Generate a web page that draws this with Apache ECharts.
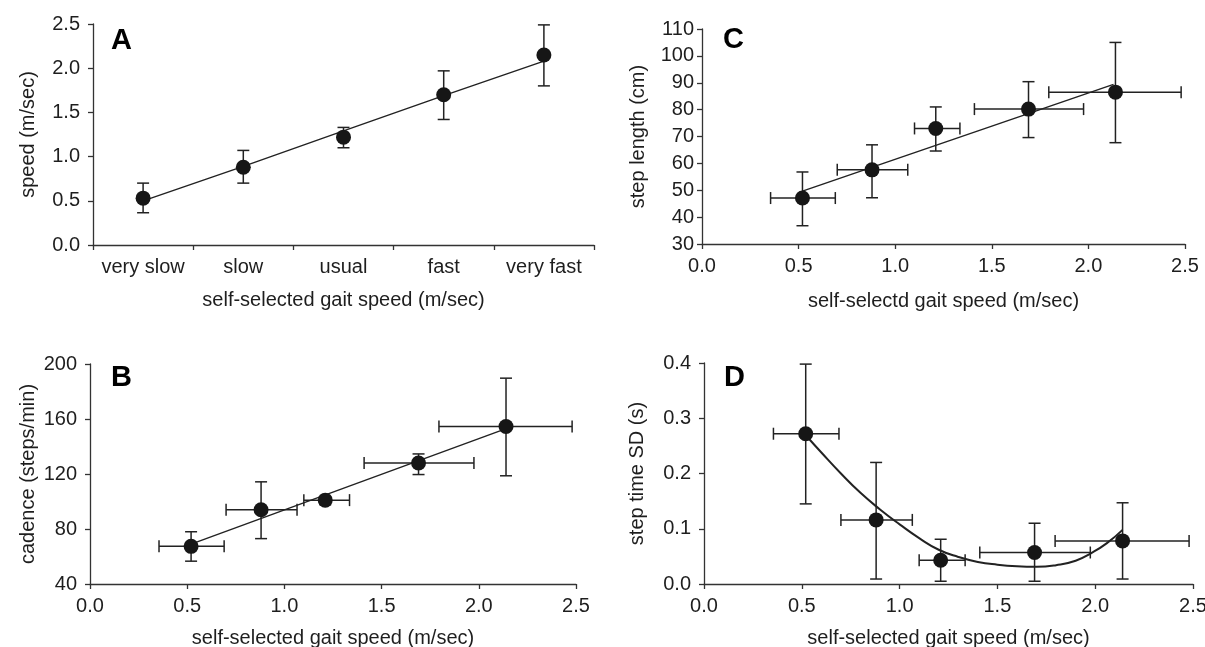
<!DOCTYPE html>
<html>
<head>
<meta charset="utf-8">
<script src="https://cdn.jsdelivr.net/npm/echarts@6/dist/echarts.min.js"></script>
<style>
html,body{margin:0;padding:0;background:#fff;}
#chart{width:1205px;height:647px;}
</style>
</head>
<body>
<div id="chart"></div>
<script>
// ---- Panel A: speed by instructed category ----
const speedCategories = ['very slow', 'slow', 'usual', 'fast', 'very fast'];
const speedMean = [0.53, 0.88, 1.22, 1.70, 2.15];
const speedLow = [0.365, 0.70, 1.10, 1.42, 1.80];
const speedHigh = [0.70, 1.07, 1.33, 1.97, 2.49];
const speedFit = [0.50, 0.89, 1.29, 1.69, 2.08];

// ---- shared self-selected gait speed (x of B, C, D) ----
const gaitSpeed = [0.52, 0.88, 1.21, 1.69, 2.14];
const gaitSpeedLow = [0.355, 0.70, 1.10, 1.41, 1.795];
const gaitSpeedHigh = [0.69, 1.065, 1.335, 1.975, 2.48];

// ---- Panel B: cadence ----
const cadence = [67.4, 94, 101, 128, 154.5];
const cadenceLow = [56.6, 73, 97.7, 119.6, 118.7];
const cadenceHigh = [78, 114.3, 103.5, 134.6, 189.7];
const cadenceFitX = [0.52, 2.13];
const cadenceFitY = [69, 152.4];

// ---- Panel C: step length ----
const stepLength = [47.1, 57.6, 73, 80.2, 86.5];
const stepLengthLow = [36.8, 47.2, 64.6, 69.6, 67.7];
const stepLengthHigh = [56.8, 66.9, 81, 90.4, 105];
const stepLengthFitX = [0.52, 2.13];
const stepLengthFitY = [49.7, 89.4];

// ---- Panel D: step time SD ----
const stepTimeSD = [0.272, 0.116, 0.043, 0.057, 0.078];
const stepTimeSDLow = [0.145, 0.009, 0.005, 0.005, 0.009];
const stepTimeSDHigh = [0.398, 0.220, 0.081, 0.110, 0.147];
const curveX = [0.526, 0.6, 0.7, 0.8, 0.9, 1.0, 1.1, 1.2, 1.3, 1.4, 1.5, 1.6, 1.7, 1.8, 1.9, 1.98, 2.06, 2.14];
const curveY = [0.267, 0.238, 0.200, 0.165, 0.135, 0.108, 0.083, 0.062, 0.049, 0.040, 0.035, 0.032, 0.031, 0.034, 0.042, 0.056, 0.074, 0.098];

// ---- axis ranges / ticks ----
const speedAxis = {min: 0, max: 2.5, interval: 0.5};
const cadenceAxis = {min: 40, max: 200, interval: 40};
const stepLengthAxis = {min: 30, max: 110, interval: 10};
const sdAxis = {min: 0, max: 0.4, interval: 0.1};
const gaitAxis = {min: 0, max: 2.5, interval: 0.5};

const panelLetters = ['A', 'B', 'C', 'D'];
const xTitleA = 'self-selected gait speed (m/sec)';
const xTitleC = 'self-selectd gait speed (m/sec)';

const FONT = '"Liberation Sans", Arial, Helvetica, sans-serif';
const TXT = '#1e1e1e';
const AX = '#333';
const MARK = '#161616';

function zip(a, b) { return a.map((v, i) => [v, b[i]]); }

function errRender(params, api) {
  const x = api.value(0), y = api.value(1);
  const cap = 6;
  const st = {stroke: '#222', lineWidth: 1.5};
  const ch = [];
  const lo = api.coord([x, api.value(2)]);
  const hi = api.coord([x, api.value(3)]);
  ch.push({type: 'line', shape: {x1: lo[0], y1: lo[1], x2: hi[0], y2: hi[1]}, style: st});
  ch.push({type: 'line', shape: {x1: lo[0] - cap, y1: lo[1], x2: lo[0] + cap, y2: lo[1]}, style: st});
  ch.push({type: 'line', shape: {x1: hi[0] - cap, y1: hi[1], x2: hi[0] + cap, y2: hi[1]}, style: st});
  const xl = api.value(4), xh = api.value(5);
  if (!isNaN(xl) && !isNaN(xh)) {
    const l = api.coord([xl, y]);
    const h = api.coord([xh, y]);
    ch.push({type: 'line', shape: {x1: l[0], y1: l[1], x2: h[0], y2: h[1]}, style: st});
    ch.push({type: 'line', shape: {x1: l[0], y1: l[1] - cap, x2: l[0], y2: l[1] + cap}, style: st});
    ch.push({type: 'line', shape: {x1: h[0], y1: h[1] - cap, x2: h[0], y2: h[1] + cap}, style: st});
  }
  return {type: 'group', children: ch};
}

function baseAxis(extra) {
  return Object.assign({
    axisLine: {show: true, lineStyle: {color: AX, width: 1.3}},
    axisTick: {show: true, inside: false, length: 5, lineStyle: {color: AX, width: 1.3}},
    splitLine: {show: false},
    axisLabel: {color: TXT, fontSize: 20, fontFamily: FONT},
    nameTextStyle: {color: TXT, fontSize: 20, fontFamily: FONT},
    nameLocation: 'middle'
  }, extra);
}
function fmt1(v) { return v.toFixed(1); }

const grids = [
  {left: 93, top: 24, width: 501, height: 221},   // A
  {left: 90, top: 364, width: 486, height: 220},  // B
  {left: 702, top: 29, width: 483, height: 215},  // C
  {left: 704, top: 363, width: 489, height: 221}  // D
].map(g => Object.assign({containLabel: false, outerBoundsMode: 'none'}, g));

const xAxes = [
  baseAxis({gridIndex: 0, type: 'category', data: speedCategories, boundaryGap: true,
    axisTick: {show: true, inside: false, length: 5, alignWithLabel: false, lineStyle: {color: AX, width: 1.3}},
    axisLabel: {color: TXT, fontSize: 20, fontFamily: FONT, margin: 12, interval: 0},
    name: xTitleA, nameGap: 45}),
  baseAxis({gridIndex: 1, type: 'value', min: gaitAxis.min, max: gaitAxis.max, interval: gaitAxis.interval,
    axisLabel: {color: TXT, fontSize: 20, fontFamily: FONT, margin: 12, formatter: fmt1},
    name: xTitleA, nameGap: 44}),
  baseAxis({gridIndex: 2, type: 'value', min: gaitAxis.min, max: gaitAxis.max, interval: gaitAxis.interval,
    axisLabel: {color: TXT, fontSize: 20, fontFamily: FONT, margin: 12, formatter: fmt1},
    name: xTitleC, nameGap: 47}),
  baseAxis({gridIndex: 3, type: 'value', min: gaitAxis.min, max: gaitAxis.max, interval: gaitAxis.interval,
    axisLabel: {color: TXT, fontSize: 20, fontFamily: FONT, margin: 12, formatter: fmt1},
    name: xTitleA, nameGap: 44})
];

const yAxes = [
  baseAxis({gridIndex: 0, type: 'value', min: speedAxis.min, max: speedAxis.max, interval: speedAxis.interval,
    axisLabel: {color: TXT, fontSize: 20, fontFamily: FONT, margin: 13, formatter: fmt1},
    name: 'speed (m/sec)', nameGap: 55}),
  baseAxis({gridIndex: 1, type: 'value', min: cadenceAxis.min, max: cadenceAxis.max, interval: cadenceAxis.interval,
    axisLabel: {color: TXT, fontSize: 20, fontFamily: FONT, margin: 13},
    name: 'cadence (steps/min)', nameGap: 52}),
  baseAxis({gridIndex: 2, type: 'value', min: stepLengthAxis.min, max: stepLengthAxis.max, interval: stepLengthAxis.interval,
    axisLabel: {color: TXT, fontSize: 20, fontFamily: FONT, margin: 8},
    name: 'step length (cm)', nameGap: 54}),
  baseAxis({gridIndex: 3, type: 'value', min: sdAxis.min, max: sdAxis.max, interval: sdAxis.interval,
    axisLabel: {color: TXT, fontSize: 20, fontFamily: FONT, margin: 13, formatter: fmt1},
    name: 'step time SD (s)', nameGap: 57})
];

function errSeries(idx, rows) {
  return {type: 'custom', xAxisIndex: idx, yAxisIndex: idx, renderItem: errRender, data: rows,
    encode: {x: 0, y: [1, 2, 3]}, z: 3, silent: true, clip: false};
}
function scatterSeries(idx, data) {
  return {type: 'scatter', xAxisIndex: idx, yAxisIndex: idx, data: data, symbol: 'circle', symbolSize: 15,
    itemStyle: {color: MARK, opacity: 1}, z: 5, silent: true};
}
function lineSeries(idx, data, smooth, w) {
  return {type: 'line', xAxisIndex: idx, yAxisIndex: idx, data: data, showSymbol: false, symbol: 'none',
    smooth: smooth, lineStyle: {color: '#222', width: w}, z: 4, silent: true};
}

const rowsA = speedMean.map((v, i) => [i, v, speedLow[i], speedHigh[i], NaN, NaN]);
const rowsB = cadence.map((v, i) => [gaitSpeed[i], v, cadenceLow[i], cadenceHigh[i], gaitSpeedLow[i], gaitSpeedHigh[i]]);
const rowsC = stepLength.map((v, i) => [gaitSpeed[i], v, stepLengthLow[i], stepLengthHigh[i], gaitSpeedLow[i], gaitSpeedHigh[i]]);
const rowsD = stepTimeSD.map((v, i) => [gaitSpeed[i], v, stepTimeSDLow[i], stepTimeSDHigh[i], gaitSpeedLow[i], gaitSpeedHigh[i]]);

const series = [
  lineSeries(0, speedFit.map((v, i) => [i, v]), false, 1.4),
  errSeries(0, rowsA),
  scatterSeries(0, speedMean.map((v, i) => [i, v])),

  lineSeries(1, zip(cadenceFitX, cadenceFitY), false, 1.4),
  errSeries(1, rowsB),
  scatterSeries(1, zip(gaitSpeed, cadence)),

  lineSeries(2, zip(stepLengthFitX, stepLengthFitY), false, 1.4),
  errSeries(2, rowsC),
  scatterSeries(2, zip(gaitSpeed, stepLength)),

  lineSeries(3, zip(curveX, curveY), 0.5, 2),
  errSeries(3, rowsD),
  scatterSeries(3, zip(gaitSpeed, stepTimeSD))
];

const letterPos = [[111, 42], [111, 379], [723, 41], [724, 379]];
const graphic = panelLetters.map((t, i) => ({
  type: 'text', left: letterPos[i][0], top: letterPos[i][1] - 16,
  style: {text: t, fontSize: 29, fontWeight: 'bold', fontFamily: FONT, fill: '#000'}
}));

const chart = echarts.init(document.getElementById('chart'), null, {renderer: 'canvas'});
chart.setOption({
  animation: false,
  backgroundColor: '#fff',
  grid: grids,
  xAxis: xAxes,
  yAxis: yAxes,
  series: series,
  graphic: graphic
});
</script>
</body>
</html>
